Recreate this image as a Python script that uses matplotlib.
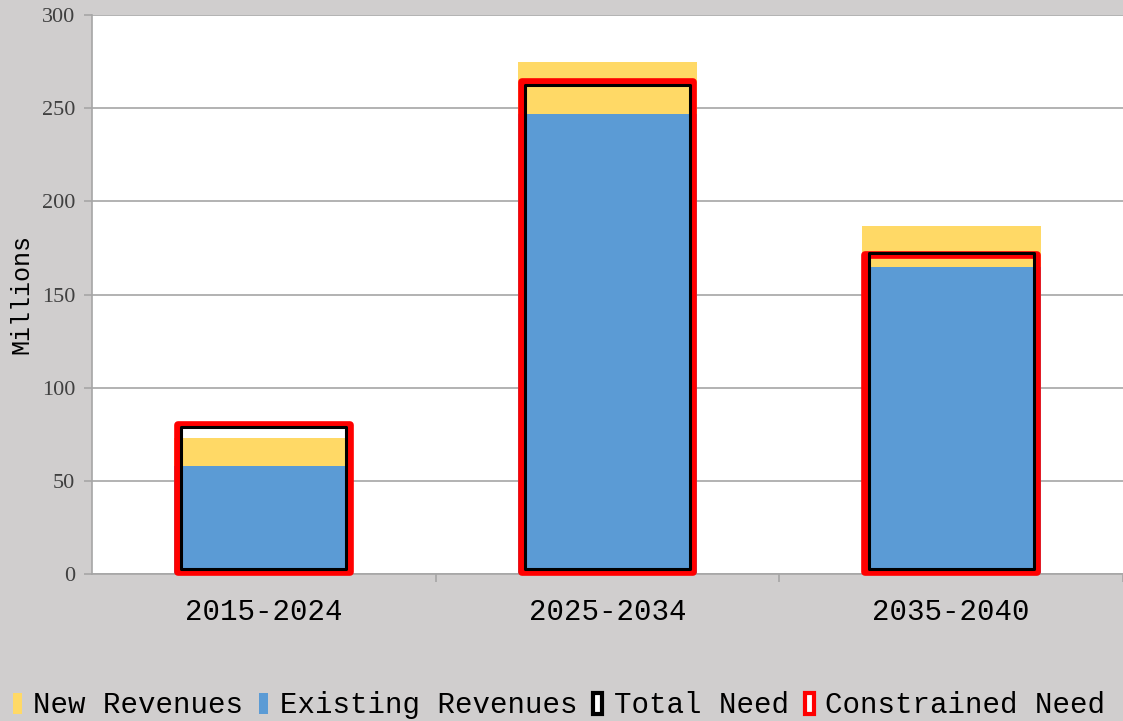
import matplotlib.pyplot as plt
from matplotlib.patches import Patch

periods = ["2015-2024", "2025-2034", "2035-2040"]
existing_revenues = [58, 247, 165]
new_revenues = [15, 28, 22]
total_need = [79, 262.5, 172.5]
constrained_need = [80, 264, 171]
y_ticks = [0, 50, 100, 150, 200, 250, 300]

bg = "#d0cece"
yellow = "#ffd966"
blue = "#5b9bd5"
mono = "Liberation Mono"

fig = plt.figure(figsize=(11.23, 7.21), dpi=100, facecolor=bg)
ax = fig.add_axes([92 / 1123, 147 / 721, 1031 / 1123, 559 / 721])
ax.set_facecolor("white")

x = range(len(periods))
ax.bar(x, existing_revenues, width=0.52, color=blue, zorder=2)
ax.bar(x, new_revenues, width=0.52, bottom=existing_revenues, color=yellow, zorder=2)
# outline boxes sit just above the axis, as in the original
lift = 1.2
ax.bar(x, [v - lift for v in constrained_need], bottom=lift, width=0.5, fill=False,
       edgecolor="red", linewidth=5.5, joinstyle="round", zorder=3, clip_on=False)
ax.bar(x, [v - lift - 1.5 for v in total_need], bottom=lift + 1.5, width=0.48,
       fill=False, edgecolor="black", linewidth=2.2, joinstyle="round", zorder=4,
       clip_on=False)

ax.set_xlim(-0.5, 2.5)
ax.set_ylim(0, 300)
ax.set_yticks(y_ticks)
ax.set_yticklabels([str(v) for v in y_ticks], fontfamily="Liberation Serif",
                   fontsize=16, color="#404040")
ax.set_xticks(list(x))
ax.set_xticklabels(periods, fontfamily=mono, fontsize=21)
ax.set_xticks([0.5, 1.5, 2.5], minor=True)
ax.tick_params(axis="x", which="major", length=0, pad=17)
ax.tick_params(axis="x", which="minor", length=6, color="#a6a6a6", width=1.2)
ax.tick_params(axis="y", length=6, color="#a6a6a6", width=1.2, pad=6)
ax.grid(axis="y", color="#a6a6a6", linewidth=1.2, zorder=0)
ax.set_axisbelow(True)
for side in ["top", "right"]:
    ax.spines[side].set_visible(False)
for side in ["left", "bottom"]:
    ax.spines[side].set_color("#a6a6a6")
    ax.spines[side].set_linewidth(1.2)

ax.set_ylabel("Millions", fontfamily=mono, fontsize=18, labelpad=6)

handles = [
    Patch(facecolor=yellow, edgecolor="none"),
    Patch(facecolor=blue, edgecolor="none"),
    Patch(facecolor="white", edgecolor="black", linewidth=3),
    Patch(facecolor="white", edgecolor="red", linewidth=3),
]
labels = ["New Revenues", "Existing Revenues", "Total Need", "Constrained Need"]
fig.legend(handles, labels, loc="lower left", bbox_to_anchor=(-0.004, -0.022),
           ncol=4, frameon=False, prop={"family": mono, "size": 21},
           handlelength=0.3, handleheight=0.75, handletextpad=0.4,
           columnspacing=0.55, borderaxespad=0.2)

fig.savefig("out.png", dpi=100, facecolor=bg)
